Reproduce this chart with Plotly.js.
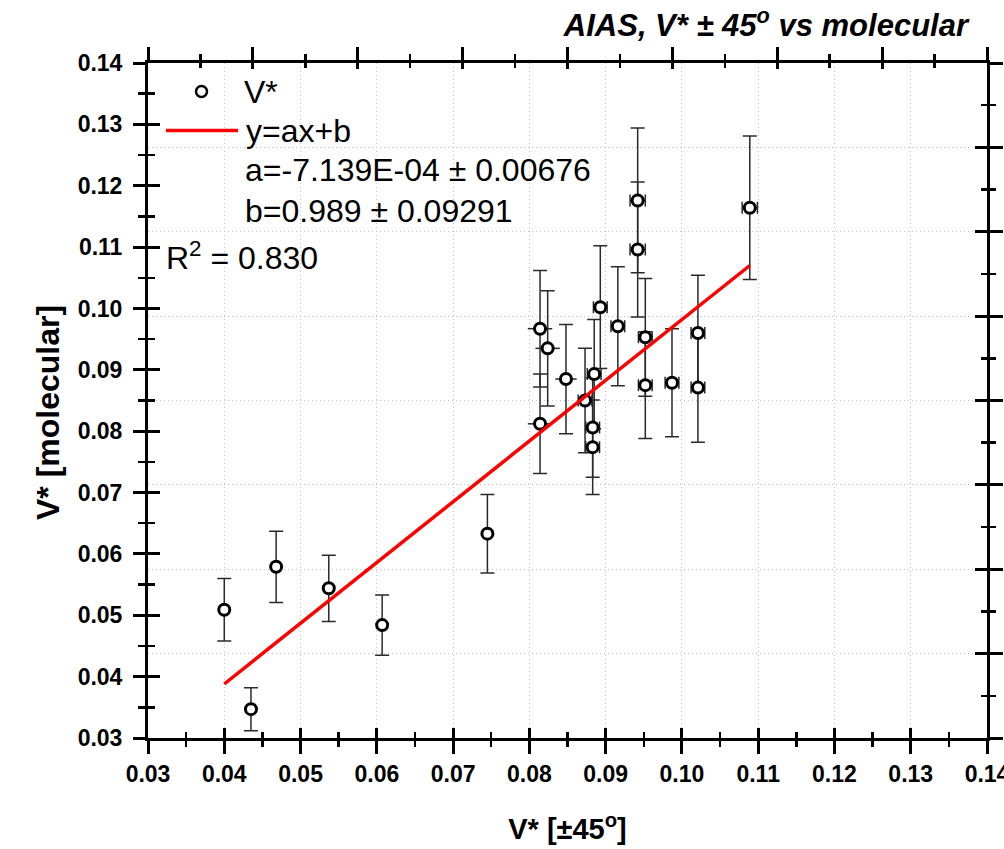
<!DOCTYPE html>
<html>
<head>
<meta charset="utf-8">
<script src="https://cdn.plot.ly/plotly-3.0.1.min.js"></script>
<style>html,body{margin:0;padding:0;background:#fff;}#chart{width:1004px;height:849px;}</style>
</head>
<body>
<div id="chart"></div>
<script>
// V* at ±45° (x) vs V* molecular (y)
const vStar45 = [0.0400, 0.0435, 0.0468, 0.0537, 0.0607, 0.0745, 0.0814, 0.0814, 0.0824, 0.0848,
                 0.0873, 0.0885, 0.0883, 0.0883, 0.0893, 0.0916, 0.0942, 0.0942, 0.0952, 0.0952,
                 0.0987, 0.1021, 0.1021, 0.1089];
const vStarMol = [0.0509, 0.0347, 0.0579, 0.0544, 0.0484, 0.0633, 0.0967, 0.0812, 0.0935, 0.0885,
                  0.0850, 0.0893, 0.0806, 0.0774, 0.1002, 0.0971, 0.1176, 0.1096, 0.0953, 0.0875,
                  0.0879, 0.0960, 0.0871, 0.1164];
const vStar45Err = [0, 0, 0, 0, 0, 0, 0.0016, 0.0016, 0.0016, 0.0014,
                    0.0009, 0.0009, 0.0009, 0.0009, 0.0009, 0.0009, 0.0010, 0.0010, 0.0009, 0.0009,
                    0.0009, 0.0009, 0.0009, 0.0010];
const vStarMolErr = [0.0051, 0.0035, 0.0058, 0.0054, 0.0049, 0.0064, 0.0095, 0.0081, 0.0094, 0.0089,
                     0.0085, 0.0089, 0.0081, 0.0077, 0.0100, 0.0097, 0.0118, 0.0110, 0.0096, 0.0087,
                     0.0088, 0.0094, 0.0089, 0.0117];
// linear fit line end points
const fitX = [0.0400, 0.1089];
const fitY = [0.0388, 0.1070];
// tick values shown on the bottom and left axes
const axisTicks = [0.03, 0.04, 0.05, 0.06, 0.07, 0.08, 0.09, 0.10, 0.11, 0.12, 0.13, 0.14];
const axisTickText = ['0.03', '0.04', '0.05', '0.06', '0.07', '0.08', '0.09', '0.10', '0.11', '0.12', '0.13', '0.14'];
// legend / fit text
const seriesName = 'V*';
const fitName = 'y=ax+b';
const fitA = 'a=-7.139E-04 ± 0.00676';
const fitB = 'b=0.989 ± 0.09291';
const fitR2 = 'R<sup>2</sup> = 0.830';

// split: points whose x error bar carries caps, others without
const capIdx = [], noCapIdx = [];
vStar45Err.forEach((e, i) => { if (e > 0 && e < 0.0012) capIdx.push(i); else noCapIdx.push(i); });
const pick = (arr, idx) => idx.map(i => arr[i]);

const FONT = 'Liberation Sans, Arial, sans-serif';
const errColor = '#2a2a2a';
const IN = '#000000';
const markerStyle = {symbol: 'circle', size: 11, color: '#ffffff', line: {color: '#000000', width: 3}};

function pointTrace(idx, capW) {
  return {
    type: 'scatter', mode: 'markers', name: seriesName,
    x: pick(vStar45, idx), y: pick(vStarMol, idx),
    xaxis: 'x', yaxis: 'y',
    marker: markerStyle,
    error_x: {type: 'data', array: pick(vStar45Err, idx), visible: true, color: errColor, thickness: 1.5, width: capW},
    error_y: {type: 'data', array: pick(vStarMolErr, idx), visible: true, color: errColor, thickness: 1.5, width: 7},
    showlegend: false, hoverinfo: 'x+y'
  };
}

const traces = [
  pointTrace(noCapIdx, 0),
  pointTrace(capIdx, 6),
  {type: 'scatter', mode: 'lines', name: fitName, x: fitX, y: fitY, xaxis: 'x', yaxis: 'y',
   line: {color: '#ff0000', width: 3.5}, showlegend: false},
  {type: 'scatter', x: [], y: [], xaxis: 'x2', yaxis: 'y2', showlegend: false, hoverinfo: 'skip'},
  {type: 'scatter', x: [], y: [], xaxis: 'x3', yaxis: 'y3', showlegend: false, hoverinfo: 'skip'},
  {type: 'scatter', x: [], y: [], xaxis: 'x4', yaxis: 'y4', showlegend: false, hoverinfo: 'skip'}
];

const L = 148, R = 987, T = 63, B = 738;
const px = v => (v - L) / (R - L);
const py = v => (B - v) / (B - T);

const dataRange = [0.03, 0.14];
const boxRange = [0, 8];
const grid = {showgrid: true, gridcolor: '#c2c2c2', griddash: '1px,3px', gridwidth: 1};
const noGrid = {showgrid: false, zeroline: false};

const layout = {
  width: 1004, height: 849,
  margin: {l: L, r: 1004 - R, t: T, b: 849 - B, pad: 0},
  paper_bgcolor: '#ffffff', plot_bgcolor: '#ffffff',
  font: {family: FONT, color: '#000000'},
  showlegend: false,
  title: {
    text: 'AIAS, V* ± 45<sup>o</sup> vs molecular',
    x: 968 / 1004, xanchor: 'right', xref: 'container',
    y: 1 - 25 / 849, yanchor: 'middle', yref: 'container',
    font: {family: FONT, size: 31, weight: 'bold', style: 'italic', color: '#000'}
  },
  xaxis: Object.assign({
    range: dataRange, autorange: false, tickmode: 'array', tickvals: axisTicks, ticktext: axisTickText,
    ticklabeloverflow: 'allow',
    ticks: 'outside', ticklen: 13, tickwidth: 3, tickcolor: '#000',
    showline: true, linewidth: 3, linecolor: '#000', zeroline: false,
    minor: {dtick: 0.005, tick0: 0.03, ticks: 'outside', ticklen: 6, tickwidth: 2.5, tickcolor: '#000', showgrid: false},
    tickfont: {family: FONT, size: 23, weight: 'bold', color: '#000'},
    title: {text: 'V* [±45<sup>o</sup>]', font: {family: FONT, size: 29, weight: 'bold', color: '#000'}, standoff: 34}
  }, grid),
  xaxis3: Object.assign({
    overlaying: 'x', anchor: 'y', side: 'bottom', range: dataRange, autorange: false, tick0: 0.03, dtick: 0.01,
    ticks: 'inside', ticklen: 10, tickwidth: 3, tickcolor: IN, showticklabels: false, showline: false,
    minor: {dtick: 0.005, ticks: 'inside', ticklen: 6, tickwidth: 2.5, tickcolor: IN, showgrid: false}
  }, noGrid),
  xaxis2: Object.assign({
    overlaying: 'x', anchor: 'y', side: 'top', range: boxRange, autorange: false, tick0: 0, dtick: 1,
    ticks: 'outside', ticklen: 13, tickwidth: 3, tickcolor: '#000', showticklabels: false,
    showline: true, linewidth: 3, linecolor: '#000',
    minor: {dtick: 0.5, ticks: 'outside', ticklen: 6, tickwidth: 2.5, tickcolor: '#000', showgrid: false}
  }, noGrid),
  xaxis4: Object.assign({
    overlaying: 'x', anchor: 'y', side: 'top', range: boxRange, autorange: false, tick0: 0, dtick: 1,
    ticks: 'inside', ticklen: 6, tickwidth: 3, tickcolor: IN, showticklabels: false, showline: false,
    minor: {dtick: 0.5, ticks: 'inside', ticklen: 5, tickwidth: 2.5, tickcolor: IN, showgrid: false}
  }, noGrid),
  yaxis: Object.assign({
    range: dataRange, autorange: false, tickmode: 'array', tickvals: axisTicks, ticktext: axisTickText,
    ticks: 'outside', ticklen: 12, tickwidth: 3, tickcolor: '#000', ticklabelstandoff: 6,
    showline: true, linewidth: 3, linecolor: '#000',
    minor: {dtick: 0.005, tick0: 0.03, ticks: 'outside', ticklen: 7, tickwidth: 2.5, tickcolor: '#000', showgrid: false},
    tickfont: {family: FONT, size: 23, weight: 'bold', color: '#000'}
  }, noGrid),
  yaxis3: Object.assign({
    overlaying: 'y', anchor: 'x', side: 'left', range: dataRange, autorange: false, tick0: 0.03, dtick: 0.01,
    ticks: 'inside', ticklen: 12, tickwidth: 3, tickcolor: IN, showticklabels: false, showline: false,
    minor: {dtick: 0.005, ticks: 'inside', ticklen: 7, tickwidth: 2.5, tickcolor: IN, showgrid: false}
  }, noGrid),
  yaxis2: Object.assign({
    overlaying: 'y', anchor: 'x', side: 'right', range: boxRange, autorange: false, tick0: 0, dtick: 1,
    ticks: 'outside', ticklen: 13, tickwidth: 3, tickcolor: '#000', showticklabels: false,
    showline: true, linewidth: 3, linecolor: '#000', zeroline: false,
    minor: {dtick: 0.5, ticks: 'outside', ticklen: 6, tickwidth: 2.5, tickcolor: '#000', showgrid: false}
  }, grid),
  yaxis4: Object.assign({
    overlaying: 'y', anchor: 'x', side: 'right', range: boxRange, autorange: false, tick0: 0, dtick: 1,
    ticks: 'inside', ticklen: 12, tickwidth: 3, tickcolor: IN, showticklabels: false, showline: false,
    minor: {dtick: 0.5, ticks: 'inside', ticklen: 6, tickwidth: 2.5, tickcolor: IN, showgrid: false}
  }, noGrid),
  shapes: [
    {type: 'circle', xref: 'paper', yref: 'paper', xsizemode: 'pixel', ysizemode: 'pixel',
     xanchor: px(201.5), yanchor: py(91.5), x0: -5.5, x1: 5.5, y0: -5.5, y1: 5.5,
     line: {color: '#000', width: 2.5}, fillcolor: '#fff'},
    {type: 'line', xref: 'paper', yref: 'paper', x0: px(166), x1: px(238), y0: py(130.5), y1: py(130.5),
     line: {color: '#ff0000', width: 3.5}}
  ],
  annotations: [
    {text: seriesName, x: px(242), y: py(92)},
    {text: fitName, x: px(244), y: py(131)},
    {text: fitA, x: px(243), y: py(170)},
    {text: fitB, x: px(243), y: py(211)},
    {text: fitR2, x: px(164), y: py(256)}
  ].map(a => Object.assign({xref: 'paper', yref: 'paper', xanchor: 'left', yanchor: 'middle', showarrow: false,
    font: {family: FONT, size: 32, color: '#000'}}, a)).concat([
    {text: 'V* [molecular]', textangle: -90, xref: 'paper', yref: 'paper', x: px(47.5), y: py(412.5),
     xanchor: 'center', yanchor: 'middle', showarrow: false,
     font: {family: FONT, size: 32, weight: 'bold', color: '#000'}}
  ])
};

Plotly.newPlot('chart', traces, layout, {displayModeBar: false, staticPlot: true});
</script>
</body>
</html>
